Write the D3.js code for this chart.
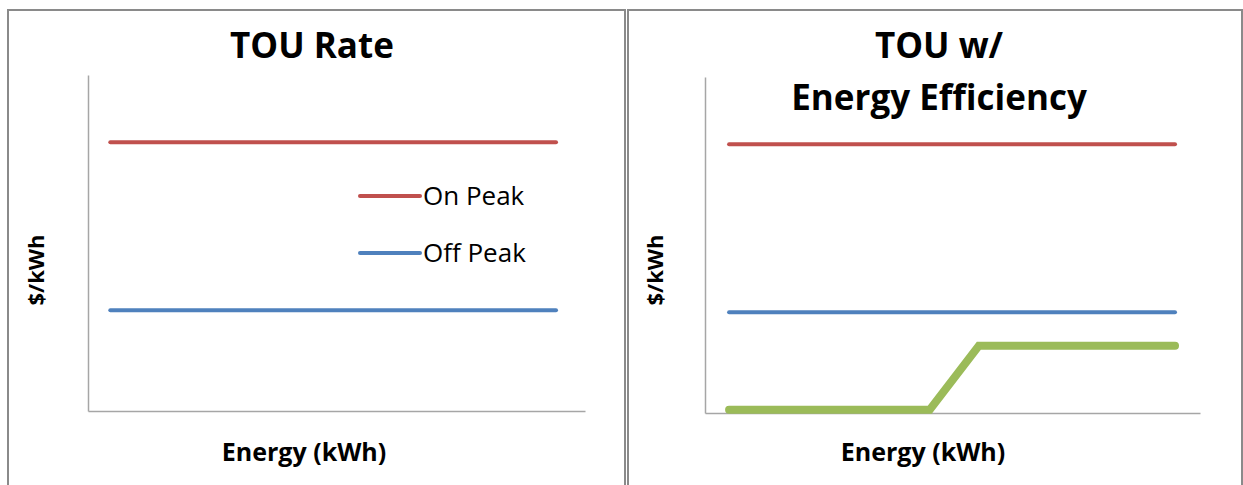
<!DOCTYPE html>
<html>
<head>
<meta charset="utf-8">
<script src="https://cdn.jsdelivr.net/npm/d3@7"></script>
<style>
  html, body { margin: 0; padding: 0; background: #ffffff; }
  svg { display: block; }
  text { font-family: "Open Sans", "Noto Sans", sans-serif; fill: #000; }
</style>
</head>
<body>
<svg id="chart" width="1243" height="485"></svg>
<script>
// ---- data ----
const xPoints = [0, 10];              // energy extent of the flat rate lines
const onPeak = [8, 8];                // $/kWh, on-peak rate
const offPeak = [3, 3];               // $/kWh, off-peak rate
const eeX = [0, 4.5, 5.6, 10];        // energy efficiency curve x
const eeY = [0.1, 0.1, 2, 2];         // energy efficiency curve y
const legendLabels = ["On Peak", "Off Peak"];
const titles = [["TOU Rate"], ["TOU w/", "Energy Efficiency"]];
const xLabel = "Energy (kWh)";
const yLabel = "$/kWh";

const colors = { on: "#C0504D", off: "#4F81BD", ee: "#9BBB59" };

const svg = d3.select("#chart");

const panels = [
  { x0: 8, x1: 625, dom: [-0.5, 10.65], plot: { left: 88, right: 585, top: 75, bottom: 411 }, titleX: 312, yLabX: 36, xLabX: 304 },
  { x0: 628, x1: 1242, dom: [-0.54, 10.56], plot: { left: 705, right: 1200, top: 77, bottom: 413 }, titleX: 939, yLabX: 655, xLabX: 923 }
];

panels.forEach((p, i) => {
  const g = svg.append("g");
  // panel border
  g.append("rect")
    .attr("x", p.x0).attr("y", 10)
    .attr("width", p.x1 - p.x0).attr("height", 500)
    .attr("fill", "#fff").attr("stroke", "#8a8a8a").attr("stroke-width", 2);

  const x = d3.scaleLinear().domain(p.dom).range([p.plot.left, p.plot.right]);
  const y = d3.scaleLinear().domain([0, 10]).range([p.plot.bottom, p.plot.top]);

  // axes (lines only, no ticks)
  const xAxis = d3.axisBottom(x).tickValues([]).tickSizeOuter(0);
  const yAxis = d3.axisLeft(y).tickValues([]).tickSizeOuter(0);
  const gx = g.append("g").attr("transform", `translate(0,${y(0)})`).call(xAxis);
  const gy = g.append("g").attr("transform", `translate(${x(p.dom[0])},0)`).call(yAxis);
  [gx, gy].forEach(a => a.select(".domain").attr("stroke", "#a6a6a6").attr("stroke-width", 1.5));

  const line = d3.line().x(d => x(d[0])).y(d => y(d[1]));

  const series = [
    { vals: d3.zip(xPoints, onPeak), c: colors.on, w: 4 },
    { vals: d3.zip(xPoints, offPeak), c: colors.off, w: 4 }
  ];
  if (i === 1) series.push({ vals: d3.zip(eeX, eeY), c: colors.ee, w: 8 });

  series.forEach(s => {
    g.append("path").datum(s.vals)
      .attr("d", line)
      .attr("fill", "none")
      .attr("stroke", s.c)
      .attr("stroke-width", s.w)
      .attr("stroke-linecap", "round")
      .attr("stroke-linejoin", "miter");
  });

  // titles
  const t = titles[i];
  t.forEach((line_, k) => {
    g.append("text")
      .attr("x", p.titleX)
      .attr("y", 58 + k * 52)
      .attr("text-anchor", "middle")
      .attr("font-size", 35)
      .attr("font-weight", 700)
      .text(line_);
  });

  // axis labels
  g.append("text")
    .attr("x", p.xLabX).attr("y", 461)
    .attr("text-anchor", "middle")
    .attr("font-size", 25).attr("font-weight", 700)
    .text(xLabel);
  g.append("text")
    .attr("transform", `translate(${p.yLabX + 8},${270}) rotate(-90)`)
    .attr("text-anchor", "middle")
    .attr("font-size", 22).attr("font-weight", 700)
    .text(yLabel);

  // legend in left panel
  if (i === 0) {
    const lc = [colors.on, colors.off];
    const ly = d3.scalePoint().domain(legendLabels).range([196, 253]);
    const lg = g.append("g");
    legendLabels.forEach((lab, k) => {
      lg.append("line")
        .attr("x1", 360).attr("x2", 420)
        .attr("y1", ly(lab)).attr("y2", ly(lab))
        .attr("stroke", lc[k]).attr("stroke-width", 4).attr("stroke-linecap", "round");
      lg.append("text")
        .attr("x", 423).attr("y", ly(lab)).attr("dy", "0.35em")
        .attr("font-size", 26)
        .text(lab);
    });
  }
});
</script>
</body>
</html>
